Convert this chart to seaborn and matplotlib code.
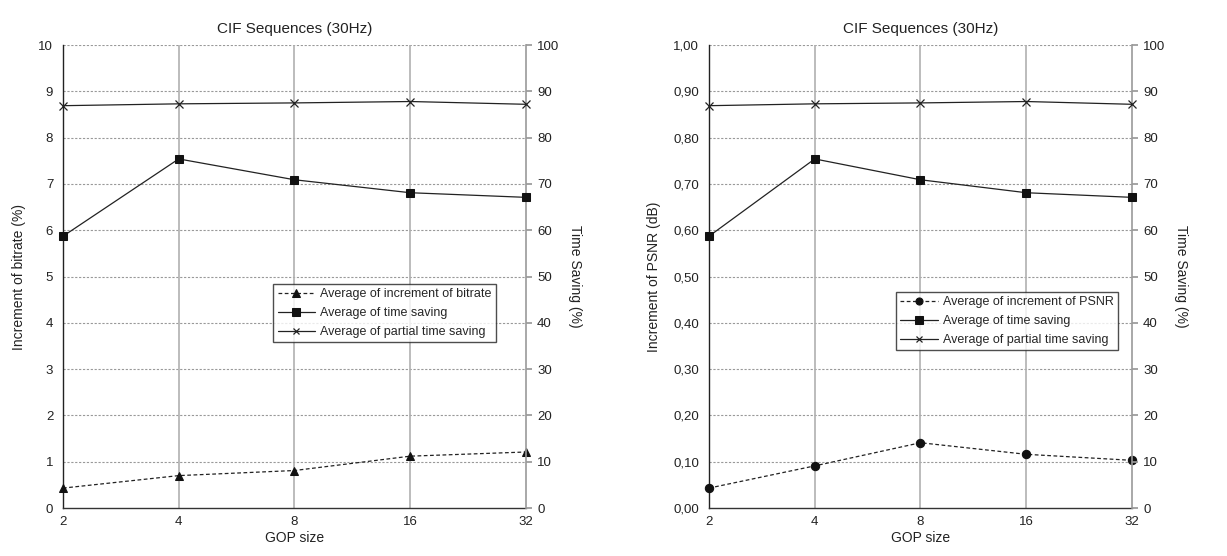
import numpy as np
import pandas as pd
import matplotlib
matplotlib.use("Agg")
import matplotlib.pyplot as plt
import seaborn as sns
from matplotlib.ticker import FixedLocator, FuncFormatter, NullLocator

gop = [2, 4, 8, 16, 32]
bitrate_inc = [0.43, 0.70, 0.81, 1.12, 1.21]
psnr_inc = [0.043, 0.091, 0.141, 0.116, 0.103]
time_saving = [58.7, 75.4, 70.9, 68.1, 67.1]
partial_saving = [86.9, 87.3, 87.5, 87.8, 87.2]
time_saving_r = [58.7, 75.4, 70.9, 68.1, 67.1]
partial_saving_r = [86.9, 87.3, 87.5, 87.8, 87.2]

sns.set_theme(style="white")
plt.rcParams['font.family'] = ['Liberation Sans', 'DejaVu Sans']
plt.rcParams['font.size'] = 9.5

fig = plt.figure(figsize=(12.27, 5.56), dpi=100)

def panel(rect, left_vals, left_label, left_marker, left_ylim, left_ticks, left_fmt,
          ts, ps, legend_label, legend_anchor):
    ax = fig.add_axes(rect)
    ax2 = ax.twinx()
    df = pd.DataFrame({"gop": gop, "v": left_vals})
    sns.lineplot(data=df, x="gop", y="v", ax=ax, color="#222222", linestyle=(0, (3, 2)),
                 linewidth=0.9, marker=left_marker, markersize=6, markeredgecolor="#111111",
                 markerfacecolor="#111111", label=legend_label, legend=False, clip_on=False,
                 zorder=5)
    df2 = pd.DataFrame({"gop": gop, "ts": ts, "ps": ps})
    sns.lineplot(data=df2, x="gop", y="ts", ax=ax2, color="#222222", linewidth=0.9,
                 marker="s", markersize=6, markeredgecolor="#111111", markerfacecolor="#111111",
                 label="Average of time saving", legend=False, clip_on=False, zorder=5)
    sns.lineplot(data=df2, x="gop", y="ps", ax=ax2, color="#222222", linewidth=0.9,
                 marker="x", markersize=5.5, markeredgewidth=0.9, markeredgecolor="#222222",
                 label="Average of partial time saving", legend=False, clip_on=False, zorder=5)
    for a in (ax, ax2):
        a.set_xscale('log', base=2)
        a.set_xlim(2, 32)
    ax.xaxis.set_major_locator(FixedLocator(gop))
    ax.xaxis.set_minor_locator(NullLocator())
    ax.xaxis.set_major_formatter(FuncFormatter(lambda v, p: f"{int(round(v))}"))
    ax.set_ylim(*left_ylim)
    ax.set_yticks(left_ticks)
    ax.yaxis.set_major_formatter(FuncFormatter(left_fmt))
    ax2.set_ylim(0, 100)
    ax2.set_yticks(np.arange(0, 101, 10))
    ax.grid(False)
    ax2.grid(False)
    ax.set_axisbelow(True)
    for t in left_ticks[1:]:
        ax.axhline(t, color="#999999", linestyle=(0, (2, 1.5)), linewidth=0.8, zorder=0)
    for g in gop[1:-1]:
        ax.axvline(g, color="#b0b0b0", linestyle="-", linewidth=1.2, zorder=0)
    ax.set_xlabel("GOP size", fontsize=10, color="#222222", labelpad=2)
    ax.set_ylabel(left_label, fontsize=10, color="#222222", labelpad=9)
    ax2.set_ylabel("Time Saving (%)", fontsize=10, color="#222222", rotation=270, labelpad=16)
    ax.set_title("CIF Sequences (30Hz)", fontsize=11, color="#222222", pad=9)
    for a in (ax, ax2):
        for s in a.spines.values():
            s.set_visible(False)
    ax.spines['left'].set_visible(True)
    ax.spines['left'].set_color("#222222")
    ax.spines['left'].set_linewidth(1.0)
    ax.spines['bottom'].set_visible(True)
    ax.spines['bottom'].set_color("#333333")
    ax.spines['bottom'].set_linewidth(1.0)
    ax2.spines['right'].set_visible(True)
    ax2.spines['right'].set_color("#999999")
    ax2.spines['right'].set_linewidth(1.2)
    ax.tick_params(axis='y', labelsize=9.5, colors="#222222", length=0, pad=7)
    ax.tick_params(axis='x', labelsize=9.5, colors="#222222", length=0, pad=6)
    ax2.tick_params(axis='y', labelsize=9.5, colors="#222222", length=4, color="#999999",
                    direction='out', pad=4)
    h1, l1 = ax.get_legend_handles_labels()
    h2, l2 = ax2.get_legend_handles_labels()
    leg = ax2.legend(h1 + h2, l1 + l2, loc="upper left", bbox_to_anchor=legend_anchor,
                     frameon=True, fancybox=False, fontsize=9, handlelength=3.0,
                     borderpad=0.35, labelspacing=0.55, handletextpad=0.4, borderaxespad=0,
                     markerscale=0.85)
    leg.get_frame().set_edgecolor("#222222")
    leg.get_frame().set_linewidth(1.0)
    return ax, ax2

panel([0.0513, 0.0863, 0.3774, 0.8327], bitrate_inc, "Increment of bitrate (%)", "^",
      (0, 10), list(range(0, 11)), lambda v, p: f"{int(round(v))}",
      time_saving, partial_saving, "Average of increment of bitrate", (0.454, 0.484))

panel([0.5778, 0.0863, 0.3448, 0.8327], psnr_inc, "Increment of PSNR (dB)", "o",
      (0, 1.0), [round(0.1 * i, 2) for i in range(11)], lambda v, p: f"{v:.2f}".replace(".", ","),
      time_saving_r, partial_saving_r, "Average of increment of PSNR", (0.442, 0.467))

fig.savefig("out.png", dpi=100)
